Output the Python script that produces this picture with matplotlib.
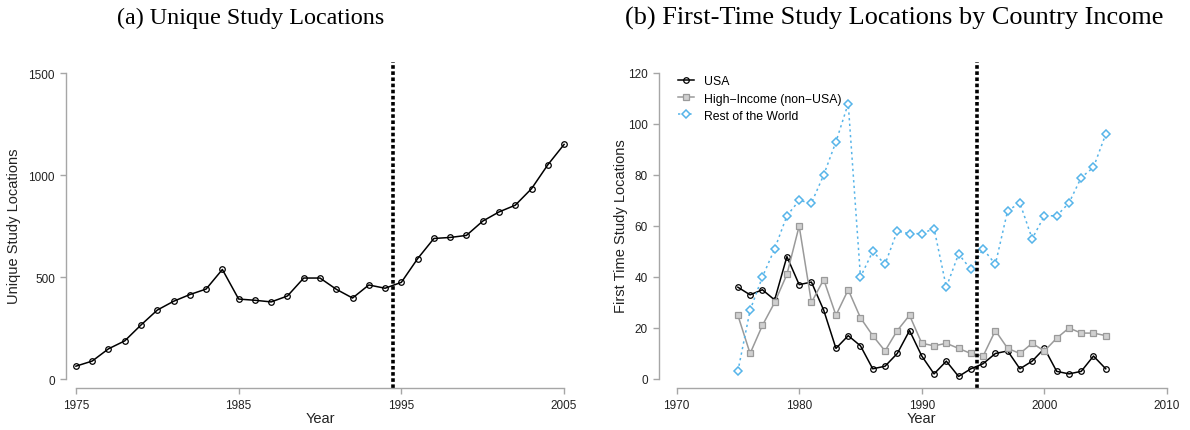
import matplotlib
matplotlib.use("Agg")
import matplotlib.pyplot as plt

# panel (a): unique study locations per year
years_a = list(range(1975, 2006))
unique_locations = [63, 88, 148, 187, 265, 338, 381, 414, 441, 537,
                    392, 386, 378, 407, 495, 495, 440, 397, 461, 445,
                    474, 590, 689, 694, 704, 774, 819, 852, 933, 1050, 1150]

# panel (b): first-time study locations by country income
years_b = list(range(1975, 2006))
usa = [36, 33, 35, 31, 48, 37, 38, 27, 12, 17, 13, 4, 5, 10, 19, 9,
       2, 7, 1, 4, 6, 10, 11, 4, 7, 12, 3, 2, 3, 9, 4]
high_income = [25, 10, 21, 30, 41, 60, 30, 39, 25, 35, 24, 17, 11, 19, 25, 14,
               13, 14, 12, 10, 9, 19, 12, 10, 14, 11, 16, 20, 18, 18, 17]
rest_of_world = [3, 27, 40, 51, 64, 70, 69, 80, 93, 108, 40, 50, 45, 58, 57, 57,
                 59, 36, 49, 43, 51, 45, 66, 69, 55, 64, 64, 69, 79, 83, 96]

xticks_a = [1975, 1985, 1995, 2005]
yticks_a = [0, 500, 1000, 1500]
xticks_b = [1970, 1980, 1990, 2000, 2010]
yticks_b = [0, 20, 40, 60, 80, 100, 120]
cutoff = 1994.5

W, H = 1190, 431
SANS = "Liberation Sans"
AXIS_GRAY = "#a6a6a6"
BLUE = "#56B4E9"


def px_rect(left, top, right, bottom):
    return [left / W, (H - bottom) / H, (right - left) / W, (bottom - top) / H]


def style_axis(ax, xticks, yticks):
    for side in ("top", "right"):
        ax.spines[side].set_visible(False)
    for side in ("left", "bottom"):
        ax.spines[side].set_color(AXIS_GRAY)
        ax.spines[side].set_linewidth(1.0)
    ax.spines["bottom"].set_bounds(xticks[0], xticks[-1])
    ax.spines["left"].set_bounds(yticks[0], yticks[-1])
    ax.set_xticks(xticks)
    ax.set_yticks(yticks)
    ax.tick_params(length=4, width=1.0, color=AXIS_GRAY, labelsize=8.5,
                   labelcolor="#222222", pad=4)
    for lab in ax.get_xticklabels() + ax.get_yticklabels():
        lab.set_fontfamily(SANS)
    ax.set_xlabel("Year", fontsize=10.5, family=SANS, color="#222222")
    ax.xaxis.set_label_coords(0.5, -0.072)


fig = plt.figure(figsize=(W / 100, H / 100), dpi=100)

# (a)
ax1 = fig.add_axes(px_rect(66, 63, 574, 389))
ax1.plot(years_a, unique_locations, color="black", lw=1.1, marker="o",
         ms=4, mfc="none", mec="black", mew=0.9)
ax1.axvline(cutoff, color="black", lw=2.6, dashes=(1.0, 0.7))
ax1.set_xlim(1974.39, 2005.61)
ax1.set_ylim(-44, 1554)
style_axis(ax1, xticks_a, yticks_a)
ax1.set_ylabel("Unique Study Locations", fontsize=10.5, family=SANS, color="#222222")
ax1.yaxis.set_label_coords(-0.088, 0.5)

# (b)
ax2 = fig.add_axes(px_rect(659, 63, 1183, 389))
ax2.plot(years_b, usa, color="black", lw=1.1, marker="o", ms=4,
         mfc="none", mec="black", mew=0.9, label="USA")
ax2.plot(years_b, high_income, color="#9a9a9a", lw=1.1, marker="s", ms=4,
         mfc="#d0d0d0", mec="#9a9a9a", mew=0.9, label="High\u2212Income (non\u2212USA)")
ax2.plot(years_b, rest_of_world, color=BLUE, lw=1.1, ls=(0, (1.5, 2.2)),
         marker="D", ms=4.2, mfc="white", mec=BLUE, mew=1.1, label="Rest of the World")
ax2.axvline(cutoff, color="black", lw=2.6, dashes=(1.0, 0.7))
ax2.set_xlim(1968.57, 2011.3)
ax2.set_ylim(-3.53, 124.3)
style_axis(ax2, xticks_b, yticks_b)
ax2.set_ylabel("First Time Study Locations", fontsize=10.5, family=SANS, color="#222222")
ax2.yaxis.set_label_coords(-0.059, 0.5)
leg = ax2.legend(loc="upper left", bbox_to_anchor=(0.02, 0.985), frameon=False,
                 prop={"family": SANS, "size": 8.8}, handlelength=1.3,
                 handletextpad=0.8, labelspacing=0.42, borderaxespad=0.3)

fig.text(251 / W, 1 - 18 / H, "(a) Unique Study Locations", ha="center", va="center",
         family="Liberation Serif", fontsize=17.4)
fig.text(894 / W, 1 - 18 / H, "(b) First-Time Study Locations by Country Income",
         ha="center", va="center", family="Liberation Serif", fontsize=18.9)

fig.savefig("out.png", dpi=100)
